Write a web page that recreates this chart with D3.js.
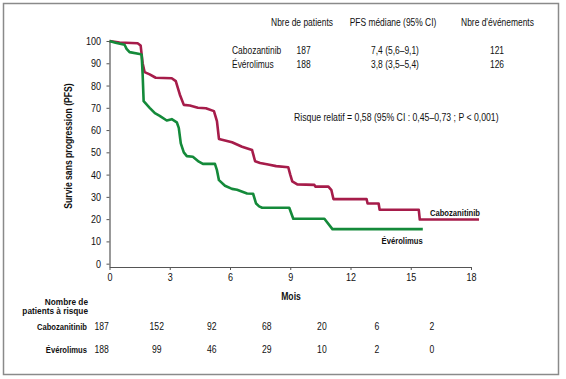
<!DOCTYPE html>
<html><head><meta charset="utf-8">
<script src="https://cdn.jsdelivr.net/npm/d3@7"></script>
<style>
html,body{margin:0;padding:0;background:#fff;}
svg{display:block;}
text{font-family:"Liberation Sans",Arial,sans-serif;fill:#111;}
</style></head>
<body>
<svg id="c" width="566" height="379"></svg>
<script>
// ---- Data ----
const seriesNames = ["Cabozanitinib", "Évérolimus"];
const seriesColors = ["#a61c4a", "#148a3a"];
const caboCurve = [[0,100],[0.5,99.3],[1.4,99],[1.55,98],[1.65,90],[1.75,86],[2.0,85],[2.3,83.5],[3.1,83.3],[3.3,82],[3.5,76],[3.7,71.3],[4.0,71],[4.4,70],[4.8,69.8],[5.2,68.5],[5.35,64],[5.45,56],[5.8,55.2],[6.1,54.5],[6.6,52.5],[7.1,51],[7.25,46],[7.5,45.2],[7.9,44.5],[8.3,43.8],[8.9,43.3],[9.0,40],[9.1,37],[9.35,35.6],[10.2,35.4],[10.25,34.6],[10.9,34.6],[11.05,33],[11.15,29],[12.8,29],[12.85,27],[13.4,27],[13.45,24.2],[15.4,24.2],[15.45,19.8],[18.4,19.8]];
const everoCurve = [[0,100],[0.3,99.2],[0.75,98.3],[0.85,96.5],[1.0,95],[1.5,94.2],[1.6,93.8],[1.65,85],[1.7,73],[2.0,70],[2.26,67.6],[2.5,66.4],[2.85,64.3],[3.1,64.9],[3.35,63.5],[3.45,61],[3.55,54],[3.7,50],[3.85,48.3],[4.15,48],[4.45,45.8],[4.65,44.8],[5.25,44.8],[5.35,42],[5.45,37.5],[5.75,35],[6.1,33.6],[6.35,33.2],[6.85,31.5],[7.15,31.4],[7.3,27],[7.45,25.7],[7.6,25.1],[8.95,25.1],[9.15,20.2],[10.7,20.2],[11.1,15.5],[15.6,15.5]];
const xTicks = [0,3,6,9,12,15,18];
const yTicks = [0,10,20,30,40,50,60,70,80,90,100];
const riskTimes = [0,3,6,9,12,15,18];
const riskCabo = [187,152,92,68,20,6,2];
const riskEvero = [188,99,46,29,10,2,0];
const tableHeaders = ["Nbre de patients","PFS médiane (95% CI)","Nbre d'événements"];
const tableNames = ["Cabozantinib","Évérolimus"];
const tablePatients = ["187","188"];
const tableMedian = ["7,4 (5,6–9,1)","3,8 (3,5–5,4)"];
const tableEvents = ["121","126"];
const hrText = "Risque relatif = 0,58 (95% CI : 0,45–0,73 ; P < 0,001)";
const yLabel = "Survie sans progression (PFS)";
const xLabel = "Mois";
const riskTitle = ["Nombre de","patients à risque"];

// ---- Drawing ----
const NARROW = 0.82;
const svg = d3.select("#c");
function ntext(g, x, y, str, o={}) {
  const sx = o.sx || NARROW;
  return g.append("text")
    .attr("transform", `translate(${x},${y})${o.rotate?` rotate(${o.rotate})`:""} scale(${sx},1)`)
    .attr("font-size", o.size || 10.3)
    .attr("font-weight", o.weight || "normal")
    .attr("text-anchor", o.anchor || "start")
    .text(str);
}

svg.append("rect").attr("x",3.5).attr("y",3.5).attr("width",555).attr("height",371)
  .attr("fill","none").attr("stroke","#8a8a8a").attr("stroke-width",1.5);

const x = d3.scaleLinear().domain([0,18]).range([109.5,471]);
const y = d3.scaleLinear().domain([-1.5,100]).range([267,41]);

const axColor = "#555";
const gy = svg.append("g").attr("transform","translate(109.5,0)")
  .call(d3.axisLeft(y).tickValues(yTicks).tickSize(3).tickSizeOuter(0));
const gx = svg.append("g").attr("transform","translate(0,267)")
  .call(d3.axisBottom(x).tickValues(xTicks).tickSize(3).tickSizeOuter(0));
[gx,gy].forEach(g=>{
  g.select(".domain").attr("stroke",axColor).attr("stroke-width",1.2);
  g.selectAll(".tick line").attr("stroke",axColor);
  g.selectAll(".tick text").attr("font-family","Liberation Sans, Arial, sans-serif")
    .attr("font-size",11).attr("fill","#111");
});
gy.selectAll(".tick text").attr("x",-8.5/NARROW).attr("transform",`scale(${NARROW},1)`);
gx.selectAll(".tick text").attr("y",6).attr("transform",`scale(${NARROW},1)`);

const line = d3.line().x(d=>x(d[0])).y(d=>y(d[1]));
[caboCurve, everoCurve].forEach((c,i)=>{
  svg.append("path").attr("d",line(c)).attr("fill","none")
    .attr("stroke",seriesColors[i]).attr("stroke-width",2.6).attr("stroke-linejoin","round");
});

// curve labels
ntext(svg, x(18.45), y(21.5), seriesNames[0], {size:8.5, weight:"bold", anchor:"end", sx:0.9});
ntext(svg, x(15.6), y(9), seriesNames[1], {size:8.5, weight:"bold", anchor:"end", sx:0.9});

// axis labels
ntext(svg, 72, 146, yLabel, {size:10.5, weight:"bold", anchor:"middle", rotate:-90});
ntext(svg, 291, 300, xLabel, {size:10.5, weight:"bold", anchor:"middle"});

// top table
const hdrX = [302,393,497.5];
const tg = svg.append("g");
tableHeaders.forEach((t,i)=>ntext(tg, hdrX[i], 25.5, t, {anchor:"middle"}));
tableNames.forEach((t,i)=>{
  const yy = 54 + i*14;
  ntext(tg, 232, yy, t);
  ntext(tg, 296.5, yy, tablePatients[i]);
  ntext(tg, 395, yy, tableMedian[i], {anchor:"middle"});
  ntext(tg, 497, yy, tableEvents[i], {anchor:"middle"});
});
ntext(tg, 294, 121, hrText, {size:10.6});

// risk table
const rx = d3.scaleLinear().domain([0,18]).range([101.7,432]);
const rg = svg.append("g");
riskTitle.forEach((t,i)=>ntext(rg, 88, 305 + i*9, t, {size:9, weight:"bold", anchor:"end", sx:0.92}));
[riskCabo, riskEvero].forEach((arr,i)=>{
  const yy = 329.5 + i*23.5;
  ntext(rg, 87, yy, seriesNames[i], {size:8.5, weight:"bold", anchor:"end", sx:0.9});
  arr.forEach((d,j)=>ntext(rg, rx(riskTimes[j]), yy, d, {size:10.5, anchor:"middle"}));
});
</script>
</body></html>
